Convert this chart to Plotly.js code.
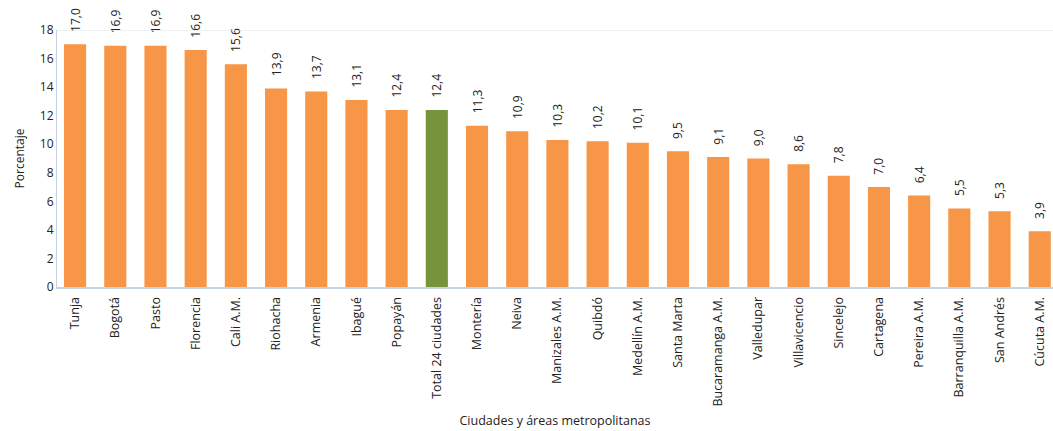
<!DOCTYPE html>
<html><head><meta charset="utf-8">
<script src="https://cdn.plot.ly/plotly-3.0.1.min.js"></script>
<style>body{margin:0;background:#fff}#c{width:1053px;height:431px}</style>
</head><body><div id="c"></div>
<script>
const categories = ["Tunja","Bogotá","Pasto","Florencia","Cali A.M.","Riohacha","Armenia","Ibagué","Popayán","Total 24 ciudades","Montería","Neiva","Manizales A.M.","Quibdó","Medellín A.M.","Santa Marta","Bucaramanga A.M.","Valledupar","Villavicencio","Sincelejo","Cartagena","Pereira A.M.","Barranquilla A.M.","San Andrés","Cúcuta A.M."];
const values = [17.0,16.9,16.9,16.6,15.6,13.9,13.7,13.1,12.4,12.4,11.3,10.9,10.3,10.2,10.1,9.5,9.1,9.0,8.6,7.8,7.0,6.4,5.5,5.3,3.9];
const highlight = "Total 24 ciudades";
const colors = categories.map(c => c === highlight ? "#77933C" : "#F79646");
const font = "Open Sans, Noto Sans, sans-serif";
Plotly.newPlot("c", [{
  type: "bar", x: categories, y: values,
  marker: {color: colors},
  texttemplate: "\u00a0\u00a0\u00a0%{y:.1f}", textposition: "outside", textangle: -90,
  constraintext: "none",
  textfont: {family: font, size: 12, color: "#222"},
  cliponaxis: false, hoverinfo: "none", width: 0.55
}], {
  width: 1053, height: 431, separators: ",.",
  margin: {l: 57, r: 0, t: 30, b: 144},
  paper_bgcolor: "#fff", plot_bgcolor: "#fff",
  showlegend: false,
  font: {family: font, size: 11, color: "#222"},
  xaxis: {range: [-0.45, 24.33], tickangle: -90, showgrid: false,
    ticks: "outside", ticklen: 3, tickcolor: "rgba(0,0,0,0)",
    showline: true, linecolor: "#C5D3E2", linewidth: 2,
    tickfont: {family: font, size: 12.5, color: "#222"},
    title: {text: "Ciudades y áreas metropolitanas", font: {family: font, size: 12.5, color: "#222"}, standoff: 11}},
  yaxis: {range: [0, 18], dtick: 2, showgrid: false, ticks: "", zeroline: false,
    showline: true, linecolor: "#C5D3E2", linewidth: 1, mirror: false,
    tickfont: {family: font, size: 12, color: "#222"},
    title: {text: "Porcentaje", font: {family: font, size: 12, color: "#222"}, standoff: 12}},
  shapes: [{type: "line", xref: "paper", yref: "y", x0: 0, x1: 1, y0: 18, y1: 18, line: {color: "#E3E3E3", width: 1}}]
}, {staticPlot: true});
</script></body></html>
